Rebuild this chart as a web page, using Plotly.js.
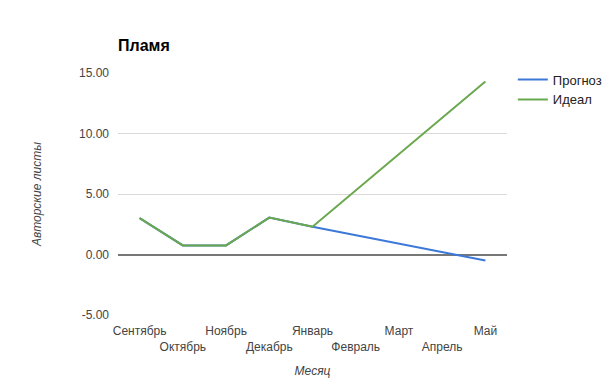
<!DOCTYPE html>
<html>
<head>
<meta charset="utf-8">
<script src="https://cdn.plot.ly/plotly-3.0.1.min.js"></script>
<style>html,body{margin:0;padding:0;background:#fff;}#chart{width:605px;height:385px;}</style>
</head>
<body>
<div id="chart"></div>
<script>
const months = ["Сентябрь","Октябрь","Ноябрь","Декабрь","Январь","Февраль","Март","Апрель","Май"];
const prognoz = [3.0, 0.75, 0.75, 3.05, 2.3, 1.6, 0.9, 0.2, -0.5];
const ideal = [3.0, 0.75, 0.75, 3.05, 2.3, 5.3, 8.3, 11.3, 14.3];
const yTicks = [-5, 0, 5, 10, 15];

const tickText = months.map((m, i) => (i % 2 === 1 ? "<br>" + m : m));
const yTickText = yTicks.map(v => v.toFixed(2));

const traces = [
  {x: months, y: prognoz, name: "Прогноз", type: "scatter", mode: "lines",
   line: {color: "#3c78d8", width: 2}},
  {x: months, y: ideal, name: "Идеал", type: "scatter", mode: "lines",
   line: {color: "#6aa84f", width: 2}}
];

const layout = {
  width: 605, height: 385,
  margin: {l: 118, r: 98, t: 73, b: 70, autoexpand: false},
  paper_bgcolor: "#fff", plot_bgcolor: "#fff",
  font: {family: "Arial, Liberation Sans, sans-serif", size: 12, color: "#444"},
  title: {text: "<b>Пламя</b>", x: 118/605, xanchor: "left", xref: "container",
          y: 1 - 45/385, yref: "container", yanchor: "middle",
          font: {size: 16, color: "#000"}},
  xaxis: {type: "category", range: [-0.5, 8.5], tickvals: months, ticktext: tickText,
          tickangle: 0, automargin: false,
          showgrid: false, zeroline: false, showline: false, ticks: "",
          ticklabelstandoff: 7,
          tickfont: {size: 12, color: "#444"},
          title: {text: "<i>Месяц</i>", font: {size: 12, color: "#444"}, standoff: 14}},
  yaxis: {range: [-5, 15], tickvals: yTicks, ticktext: yTickText, automargin: false,
          showgrid: true, gridcolor: "#d9d9d9", gridwidth: 1,
          zeroline: true, zerolinecolor: "#777", zerolinewidth: 2,
          showline: false, ticks: "", ticklabelstandoff: 8,
          tickfont: {size: 12, color: "#444"},
          title: {text: "<i>Авторские листы</i>", font: {size: 12, color: "#444"}, standoff: 34}},
  showlegend: true,
  legend: {x: 1.015, xanchor: "left", y: 1.035, yanchor: "top",
           font: {size: 13, color: "#222"}, bgcolor: "rgba(0,0,0,0)"}
};

Plotly.newPlot("chart", traces, layout, {displayModeBar: false, staticPlot: true});
</script>
</body>
</html>
